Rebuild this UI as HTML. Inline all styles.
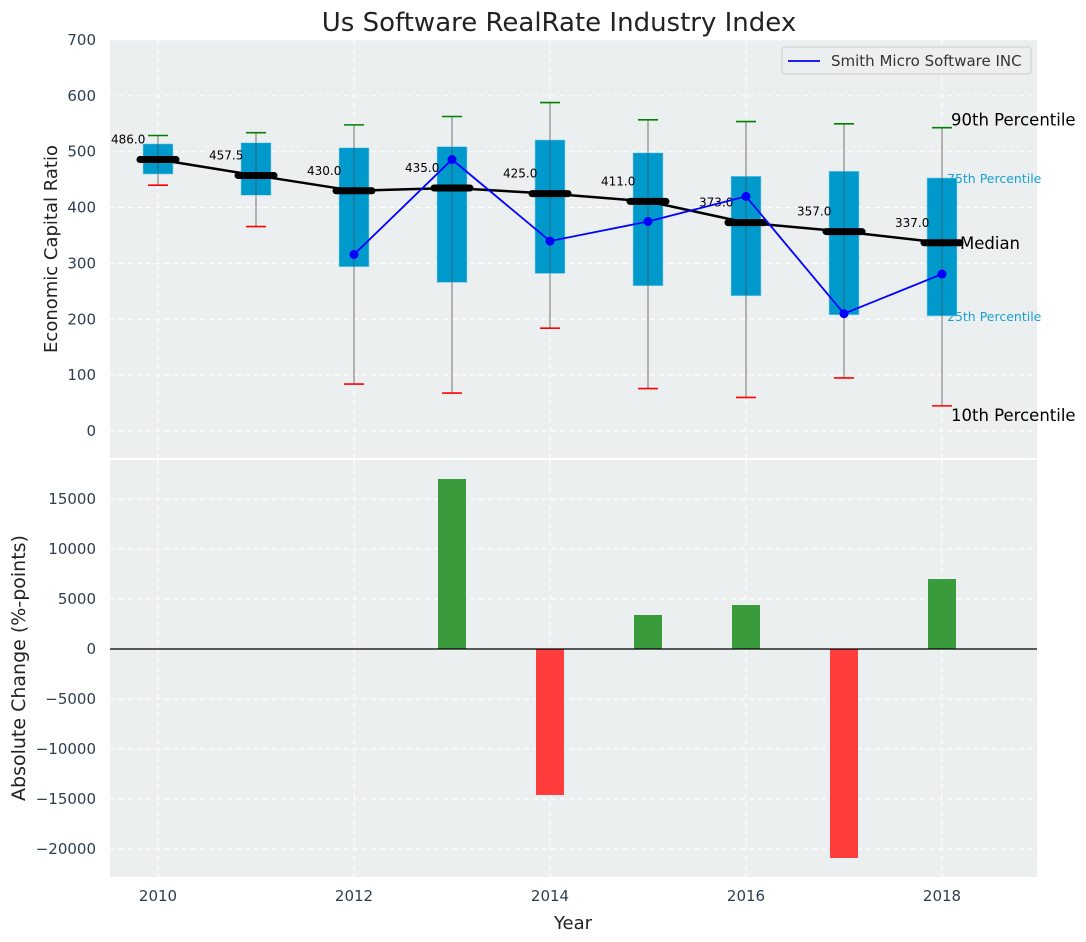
<!DOCTYPE html>
<html><head><meta charset="utf-8"><style>
body{margin:0;background:#fff}
svg{display:block;font-family:"DejaVu Sans","Liberation Sans",sans-serif}
</style></head><body>
<svg id="c" width="1086" height="942" xmlns="http://www.w3.org/2000/svg"></svg>
<script>
const years=[2010,2011,2012,2013,2014,2015,2016,2017,2018];
const p90=[529,534,548,563,588,557,554,550,543];
const p75=[514,516,507,509,521,498,456,465,453];
const medians=[486,457.5,430,435,425,411,373,357,337];
const p25=[460,422,294,266,282,260,242,208,206];
const p10=[440,366,84,68,184,76,60,95,45];
const companyYears=[2012,2013,2014,2015,2016,2017,2018];
const companyVals=[316,486,340,375,420,210,281];
const changeYears=[2013,2014,2015,2016,2017,2018];
const changeVals=[17000,-14600,3400,4400,-20900,7000];
const topTicks=[0,100,200,300,400,500,600,700];
const botTicks=[15000,10000,5000,0,-5000,-10000,-15000,-20000];
const xTicks=[2010,2012,2014,2016,2018];

const NS="http://www.w3.org/2000/svg",svg=document.getElementById('c');
function el(t,a,p){const e=document.createElementNS(NS,t);for(const k in a)e.setAttribute(k,a[k]);(p||svg).appendChild(e);return e;}
const X=v=>158+(v-2010)*98;
const L=110,R=1037;
const Y1=v=>431-v*0.5586;
const Y2=v=>649-v*0.01;
const tickCol="#2e3e50";

let e=el('rect',{x:L,y:40,width:R-L,height:418,fill:"#ebeff0"});

e=el('rect',{x:L,y:460,width:R-L,height:417,fill:"#ebeff0"});


topTicks.forEach(t=>{
 e=el('line',{x1:L,x2:R,y1:Y1(t),y2:Y1(t),stroke:"#fff","stroke-dasharray":"5,4","stroke-width":1});
 
 e=el('text',{x:96,y:Y1(t)+5,"text-anchor":"end","font-size":15,fill:tickCol});e.textContent=t;
 
});
botTicks.forEach(t=>{
 e=el('line',{x1:L,x2:R,y1:Y2(t),y2:Y2(t),stroke:"#fff","stroke-dasharray":"5,4","stroke-width":1});
 
 e=el('text',{x:96,y:Y2(t)+5,"text-anchor":"end","font-size":15,fill:tickCol});e.textContent=String(t).replace('-','\u2212');
 
});
xTicks.forEach(t=>{
 [[40,458],[460,877]].forEach(r=>{
  e=el('line',{x1:X(t),x2:X(t),y1:r[0],y2:r[1],stroke:"#fff","stroke-dasharray":"5,4"});
  
 });
 e=el('text',{x:X(t),y:901,"text-anchor":"middle","font-size":15,fill:tickCol});e.textContent=t;
 
});

const n=years.length-1, xl=X(years[n]);
function txt(s,x,y,size,fill,name){e=el('text',{x:x,y:y,"font-size":size,fill:fill});e.textContent=s;}
txt("75th Percentile",xl+5,Y1(p75[n])+5,12.5,"#1a9fd0","p75-annotation");
txt("25th Percentile",xl+5,Y1(p25[n])+5,12.5,"#1a9fd0","p25-annotation");

years.forEach((y,i)=>{
 const x=X(y);
 e=el('line',{x1:x,x2:x,y1:Y1(p90[i]),y2:Y1(p10[i]),stroke:"#888","stroke-width":1.2});
 
 e=el('rect',{x:x-15,y:Y1(p75[i]),width:30,height:Y1(p25[i])-Y1(p75[i]),fill:"#0099cc",stroke:"#8fd3ea","stroke-width":0.6});
 
 e=el('line',{x1:x,x2:x,y1:Y1(p75[i]),y2:Y1(p25[i]),stroke:"#444","stroke-width":1,"stroke-opacity":0.6});
 
 e=el('line',{x1:x-10,x2:x+10,y1:Y1(p90[i]),y2:Y1(p90[i]),stroke:"green","stroke-width":1.6});
 
 e=el('line',{x1:x-10,x2:x+10,y1:Y1(p10[i]),y2:Y1(p10[i]),stroke:"red","stroke-width":1.6});
 
});
e=el('polyline',{points:years.map((y,i)=>X(y)+","+Y1(medians[i])).join(" "),fill:"none",stroke:"#000","stroke-width":2.5});

years.forEach((y,i)=>{
 e=el('line',{x1:X(y)-18,x2:X(y)+18,y1:Y1(medians[i]),y2:Y1(medians[i]),stroke:"#000","stroke-width":7,"stroke-linecap":"round"});
 
 txt(medians[i].toFixed(1),X(y)-47,Y1(medians[i])-16,12,"#000","median-label");
});
e=el('polyline',{points:companyYears.map((y,i)=>X(y)+","+Y1(companyVals[i])).join(" "),fill:"none",stroke:"#0000ff","stroke-width":1.8});

companyYears.forEach((y,i)=>{
 e=el('circle',{cx:X(y),cy:Y1(companyVals[i]),r:4.5,fill:"#0000ff"});
 
});
txt("90th Percentile",xl+9,Y1(p90[n])-2,16.5,"#000","p90-annotation");
txt("Median",xl+18,Y1(medians[n])+6,16.5,"#000","median-annotation");
txt("10th Percentile",xl+9,Y1(p10[n])+15,16.5,"#000","p10-annotation");

e=el('rect',{x:782,y:47,width:249,height:27,fill:"#ebeff0",stroke:"#ccc",rx:3});

e=el('line',{x1:788,x2:820,y1:61,y2:61,stroke:"#0000ff","stroke-width":1.8});

txt("Smith Micro Software INC",831,66,15,"#333","legend-entry");

changeYears.forEach((y,i)=>{
 const v=changeVals[i];
 e=el('rect',{x:X(y)-14,y:Math.min(Y2(v),Y2(0)),width:28,height:Math.abs(Y2(v)-Y2(0)),fill:v>=0?"#3a9b3c":"#ff3d3d"});
 
});
e=el('line',{x1:L,x2:R,y1:Y2(0),y2:Y2(0),stroke:"#000","stroke-width":1.2});


e=el('text',{x:559,y:31,"text-anchor":"middle","font-size":26,fill:"#222"});e.textContent="Us Software RealRate Industry Index";

e=el('text',{x:573,y:929,"text-anchor":"middle","font-size":18,fill:"#222"});e.textContent="Year";

e=el('text',{x:0,y:0,"text-anchor":"middle","font-size":18,fill:"#222",transform:"translate(57,249) rotate(-90)"});e.textContent="Economic Capital Ratio";

e=el('text',{x:0,y:0,"text-anchor":"middle","font-size":19,fill:"#222",transform:"translate(25,668) rotate(-90)"});e.textContent="Absolute Change (%-points)";

</script>
</body></html>
